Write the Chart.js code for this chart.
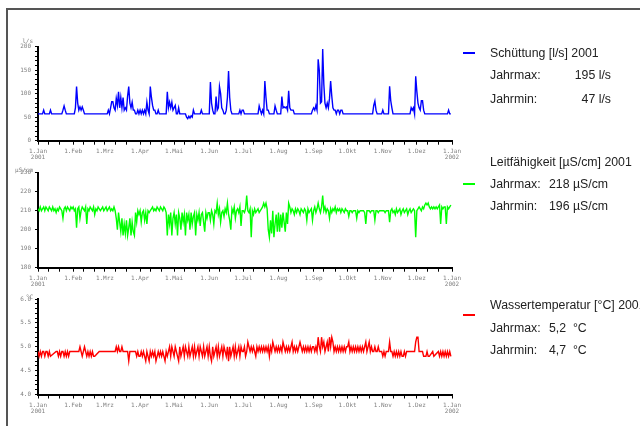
<!DOCTYPE html>
<html>
<head>
<meta charset="utf-8">
<script src="https://cdn.jsdelivr.net/npm/chart.js@4.4.1/dist/chart.umd.min.js"></script>
<style>
  body { margin: 0; width: 640px; height: 426px; overflow: hidden; background: #fff; position: relative; }
  .rahmen { position: absolute; left: 6px; top: 8px; width: 700px; height: 500px;
            border-top: 2px solid #555; border-left: 2px solid #555; }
  canvas { position: absolute; left: 0; }
  .einheit { position: absolute; font: 6px "DejaVu Sans Mono", monospace; color: #808080; text-align: right; width: 40px; }
  .leg { position: absolute; font: 12.3px "Liberation Sans", Arial, sans-serif; color: #222; line-height: 14px; white-space: nowrap; }
  .strich { position: absolute; width: 12px; height: 1.5px; }
</style>
</head>
<body>
<div class="rahmen"></div>

<canvas id="schuettung" width="472" height="130" style="top:30px"></canvas>
<canvas id="leitf" width="472" height="130" style="top:160px"></canvas>
<canvas id="temp" width="472" height="130" style="top:290px"></canvas>

<span class="einheit" style="left:-7px; top:37px">l/s</span>
<span class="einheit" style="left:-7px; top:166px">µS/cm</span>
<span class="einheit" style="left:-7px; top:293px">°C</span>

<div class="strich" style="left:463px; top:52px; background:#0000ff"></div>
<span class="leg" style="left:490px; top:46px">Schüttung [l/s] 2001</span>
<span class="leg" style="left:490px; top:68px">Jahrmax:</span>
<span class="leg" style="left:560px; top:68px; width:51px; text-align:right">195 l/s</span>
<span class="leg" style="left:490px; top:92px">Jahrmin:</span>
<span class="leg" style="left:560px; top:92px; width:51px; text-align:right">47 l/s</span>

<div class="strich" style="left:463px; top:183px; background:#00ff00"></div>
<span class="leg" style="left:490px; top:155px">Leitfähigkeit [µS/cm] 2001</span>
<span class="leg" style="left:490px; top:177px">Jahrmax:</span>
<span class="leg" style="left:549px; top:177px">218 µS/cm</span>
<span class="leg" style="left:490px; top:199px">Jahrmin:</span>
<span class="leg" style="left:549px; top:199px">196 µS/cm</span>

<div class="strich" style="left:463px; top:314px; background:#ff0000"></div>
<span class="leg" style="left:490px; top:298px">Wassertemperatur [°C] 2001</span>
<span class="leg" style="left:490px; top:321px">Jahrmax:</span>
<span class="leg" style="left:549px; top:321px">5,2&nbsp;&nbsp;°C</span>
<span class="leg" style="left:490px; top:343px">Jahrmin:</span>
<span class="leg" style="left:549px; top:343px">4,7&nbsp;&nbsp;°C</span>

<script>
// x-Achse: Tag im Jahr (0 = 1.Jan 2001)
const monatsAnfang = [0, 31, 59, 90, 120, 151, 181, 212, 243, 273, 304, 334, 365];
const monatsNamen = ['1.Jan', '1.Feb', '1.Mrz', '1.Apr', '1.Mai', '1.Jun', '1.Jul', '1.Aug', '1.Sep', '1.Okt', '1.Nov', '1.Dez', '1.Jan'];
const jahre = ['2001', '2002'];

const ticksSchuettung = [0, 10, 20, 30, 40, 50, 60, 70, 80, 90, 100, 110, 120, 130, 140, 150, 160, 170, 180, 190, 200];
const labelsSchuettung = [0, 50, 100, 150, 200];
const ticksLeitf = [180, 190, 200, 210, 220, 230];
const labelsLeitf = [180, 190, 200, 210, 220, 230];
const ticksTemp = [4.0, 4.1, 4.2, 4.3, 4.4, 4.5, 4.6, 4.7, 4.8, 4.9, 5.0, 5.1, 5.2, 5.3, 5.4, 5.5, 5.6, 5.7, 5.8, 5.9, 6.0];
const labelsTemp = [4.0, 4.5, 5.0, 5.5, 6.0];

// Tageswerte Schüttung [l/s]
const schuettung = [
  57,57,57,57,57,65,57,57,57,57,57,65,57,57,57,57,57,57,57,57,57,57,65,74,65,57,57,57,57,57,57,
  57,57,70,115,80,65,72,65,72,65,57,57,57,57,57,57,57,57,57,57,57,57,57,57,57,57,57,57,
  57,57,57,65,57,70,83,83,70,65,90,75,104,70,92,70,92,65,70,65,95,115,80,70,82,65,65,57,57,65,57,
  65,57,65,57,65,57,82,65,57,115,92,75,65,65,57,57,65,57,57,57,57,57,57,57,104,70,82,70,82,65,
  70,75,57,57,70,57,57,57,57,57,57,50,47,52,48,53,50,65,57,57,57,57,57,57,65,57,57,57,57,57,57,
  57,125,80,65,57,57,94,65,70,115,100,70,65,57,57,65,92,148,92,65,57,57,57,57,57,57,57,65,57,65,
  65,57,57,57,57,57,57,57,57,57,57,57,57,57,74,65,57,65,57,127,92,65,65,57,57,57,57,57,74,65,57,
  57,57,57,94,70,72,70,72,65,106,70,65,65,65,57,57,57,57,57,57,57,57,57,57,57,57,57,57,57,57,65,
  70,65,75,65,173,150,80,83,195,120,80,70,80,70,90,127,95,70,65,65,57,65,65,57,65,65,57,57,57,57,
  57,57,57,57,57,57,57,57,57,57,57,57,57,57,57,57,57,57,57,57,57,57,57,75,84,65,57,57,57,57,57,
  65,57,57,57,57,57,116,85,70,57,57,57,57,57,57,57,57,57,57,57,57,57,57,57,57,70,65,70,57,137,
  105,80,70,65,85,85,65,57,57,57,57,57,57,57,57,57,57,57,57,57,57,57,57,57,57,57,57,57,65,57,57
];

// Tageswerte Leitfähigkeit [µS/cm]
const leitfaehigkeit = [
  211,210,212,210,211,212,210,212,211,210,212,211,210,212,210,211,209,211,210,212,211,210,206,211,212,210,212,211,210,212,211,
  212,210,211,201,211,212,206,210,212,211,210,212,203,211,210,212,211,210,212,208,211,210,212,211,210,211,212,210,
  211,212,210,211,212,210,211,210,212,210,206,200,209,204,199,206,197,203,198,205,197,201,206,197,204,199,197,209,204,210,208,
  210,204,209,210,205,209,203,210,209,210,211,212,210,211,210,212,211,210,212,211,210,212,211,209,197,208,203,209,197,206,
  209,203,208,197,209,206,200,209,204,208,197,209,205,208,200,209,203,207,209,197,208,205,209,202,208,209,204,199,209,206,209,
  209,205,210,208,203,210,209,214,208,211,204,209,210,207,211,209,214,208,205,200,211,209,212,206,210,211,209,212,202,210,
  210,209,211,218,210,209,211,196,210,208,211,209,210,211,209,210,211,212,214,212,214,211,200,196,205,198,210,196,203,208,199,
  209,199,208,201,209,204,199,209,203,214,212,209,211,210,208,211,209,211,210,208,211,210,209,211,210,205,211,209,210,211,205,
  210,212,209,211,214,211,209,212,218,210,212,209,211,210,206,211,209,211,210,212,209,211,210,211,209,211,210,209,211,210,
  210,207,210,210,209,210,210,210,206,210,209,210,210,210,210,209,203,210,210,210,209,210,210,210,205,210,210,209,210,210,210,
  210,210,209,210,210,210,204,210,211,209,210,208,211,209,210,211,208,210,211,209,210,211,208,210,211,209,210,211,210,196,
  210,211,212,211,210,212,211,213,214,213,214,212,211,212,211,212,211,212,211,212,213,203,212,211,212,212,203,212,211,212,213
];

// Tageswerte Wassertemperatur [°C], null = keine Messung
const temperatur = [
  4.9,4.8,4.9,4.8,4.9,4.9,4.8,4.9,4.9,4.8,4.9,4.8,null,null,null,null,4.9,4.9,4.8,4.9,4.8,4.9,4.9,4.8,4.9,4.8,4.9,4.8,4.9,4.9,4.9,
  4.9,4.9,4.9,4.9,4.9,4.9,5.0,4.9,4.8,4.9,5.0,4.9,4.8,4.9,4.8,4.9,4.8,4.9,4.8,4.8,null,null,null,4.9,4.9,4.9,4.9,4.9,
  4.9,4.9,4.9,4.9,4.9,4.9,4.9,4.9,4.9,4.9,5.0,4.9,5.0,4.9,4.9,5.0,4.9,4.9,4.9,4.9,4.9,4.7,4.9,4.9,4.9,4.9,4.9,4.9,4.8,4.9,4.8,
  4.8,4.9,4.8,4.9,4.8,4.7,4.9,4.8,4.7,4.9,4.8,4.9,4.8,4.9,4.7,4.8,4.9,4.8,4.9,4.8,4.9,4.8,4.7,4.9,4.8,4.9,5.0,4.8,5.0,4.9,
  4.8,5.0,4.9,4.8,4.7,5.0,4.8,4.9,5.0,4.8,5.0,4.9,4.8,5.0,4.8,4.9,5.0,4.8,5.0,4.8,4.9,5.0,4.8,5.0,4.9,4.8,5.0,4.8,4.9,5.0,4.8,
  5.0,4.8,4.7,5.0,4.8,4.9,5.0,4.8,5.0,4.8,4.9,5.0,4.8,5.0,4.9,4.8,5.0,4.7,5.0,4.8,4.9,5.0,4.8,5.0,4.8,4.9,5.0,4.8,5.0,4.9,
  4.9,5.0,4.8,4.9,5.1,5.0,4.9,5.0,4.9,5.0,4.9,4.8,5.0,4.9,5.0,4.9,5.0,4.9,5.0,4.9,5.0,4.9,5.0,4.8,5.0,4.9,5.1,5.0,4.9,5.0,4.9,
  5.0,4.9,5.0,4.9,5.1,5.0,4.9,5.0,4.9,5.0,4.9,5.0,5.1,4.9,5.0,4.9,5.0,4.9,5.0,5.1,5.0,4.9,5.0,4.9,5.0,4.9,5.0,4.9,5.0,4.9,5.0,
  5.0,4.9,5.0,4.9,5.2,5.0,4.9,5.2,5.0,5.1,4.9,5.0,5.1,4.9,5.2,5.0,5.2,5.1,4.9,5.0,4.9,5.0,4.9,5.0,4.9,5.0,4.9,5.0,4.9,5.0,
  5.0,5.1,4.9,5.0,4.9,5.0,4.9,5.0,4.9,5.0,4.9,5.0,4.9,5.0,4.9,5.0,5.1,4.9,5.0,5.1,4.9,5.0,4.9,4.9,5.0,4.9,4.9,5.0,4.9,4.9,4.9,
  4.8,4.9,4.8,4.9,4.9,4.9,5.1,4.9,4.9,4.8,4.9,4.8,4.9,4.8,4.9,4.8,4.9,4.8,4.8,4.9,4.8,4.9,4.9,4.9,4.9,4.9,4.9,4.9,4.9,5.1,
  5.2,5.2,4.9,4.9,4.9,4.9,4.8,4.8,4.8,4.9,4.8,4.8,null,null,4.9,4.8,null,null,null,4.9,4.8,4.9,4.8,4.9,4.8,4.9,4.8,4.9,4.8,4.9,4.8
];

const tage = schuettung.map((_, i) => i);

// kleine Striche am 10. und 20. jedes Monats
const xTicks = [];
monatsAnfang.forEach((m, i) => {
  xTicks.push(m);
  if (i < 12) { xTicks.push(m + 9, m + 19); }
});

const tickFont = { family: 'DejaVu Sans Mono', size: 6, lineHeight: 1 };

function diagramm(id, werte, farbe, yMin, yMax, yTicks, yLabels, format, oben, xHoehe) {
  return new Chart(document.getElementById(id), {
    type: 'line',
    data: {
      labels: tage,
      datasets: [{
        data: werte,
        borderColor: farbe,
        borderWidth: 1.4,
        pointRadius: 0,
        spanGaps: true,
        tension: 0,
      }],
    },
    options: {
      responsive: false,
      animation: false,
      events: [],
      layout: { padding: { top: oben, right: 20, left: 0, bottom: 0 } },
      plugins: { legend: { display: false }, tooltip: { enabled: false } },
      scales: {
        x: {
          type: 'linear',
          min: 0,
          max: 365,
          afterBuildTicks: s => { s.ticks = xTicks.map(v => ({ value: v })); },
          afterFit: s => { s.height = xHoehe; },
          ticks: {
            autoSkip: false,
            maxRotation: 0,
            padding: 4,
            font: tickFont,
            color: '#808080',
            callback: v => {
              const i = monatsAnfang.indexOf(v);
              if (i < 0) return '';
              if (i === 0) return [monatsNamen[i], jahre[0]];
              if (i === 12) return [monatsNamen[i], jahre[1]];
              return monatsNamen[i];
            },
          },
          grid: { drawOnChartArea: false, tickLength: 4, color: '#000' },
          border: { color: '#000', width: 2 },
        },
        y: {
          min: yMin,
          max: yMax,
          afterBuildTicks: s => { s.ticks = yTicks.map(v => ({ value: v })); },
          afterFit: s => { s.width = 38; },
          ticks: {
            autoSkip: false,
            padding: 4,
            font: tickFont,
            color: '#808080',
            callback: v => (yLabels.includes(v) ? format(v) : ''),
          },
          grid: { drawOnChartArea: false, tickLength: 3, color: '#000' },
          border: { color: '#000', width: 2 },
        },
      },
    },
  });
}

diagramm('schuettung', schuettung, '#0000ff', 0, 200, ticksSchuettung, labelsSchuettung, v => String(v), 16.7, 19.3);
diagramm('leitf', leitfaehigkeit, '#00ff00', 180, 230, ticksLeitf, labelsLeitf, v => String(v), 12.7, 22.3);
diagramm('temp', temperatur, '#ff0000', 4.0, 6.0, ticksTemp, labelsTemp, v => v.toFixed(1), 9, 25.5);
</script>
</body>
</html>
